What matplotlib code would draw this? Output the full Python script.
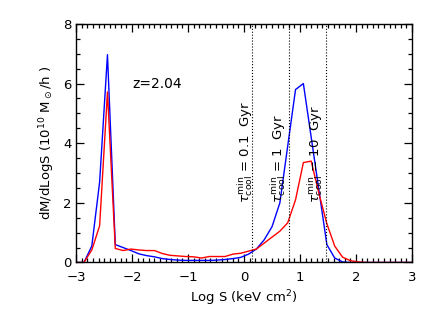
import numpy as np
import matplotlib
matplotlib.use('Agg')
import matplotlib.pyplot as plt
from matplotlib.ticker import MultipleLocator

plt.rcParams['font.family'] = ['DejaVu Sans']
plt.rcParams['mathtext.fontset'] = 'dejavusans'

# bin centres (Log S) and the two curves
log_s = [-3.00, -2.86, -2.72, -2.58, -2.44, -2.30, -2.16, -2.02, -1.88, -1.74,
         -1.60, -1.46, -1.32, -1.18, -1.04, -0.90, -0.76, -0.62, -0.48, -0.34,
         -0.20, -0.06, 0.08, 0.22, 0.36, 0.50, 0.64, 0.78, 0.92, 1.06,
         1.20, 1.34, 1.48, 1.62, 1.76, 1.90, 2.04, 2.18, 2.32, 2.46,
         2.60, 2.74, 2.88, 3.02]
dm_blue = [0, 0, 0.55, 2.7, 6.97, 0.60, 0.50, 0.40, 0.29, 0.23,
           0.19, 0.13, 0.10, 0.08, 0.07, 0.07, 0.07, 0.07, 0.08, 0.10,
           0.13, 0.17, 0.28, 0.45, 0.76, 1.2, 2.0, 3.9, 5.8, 6.0,
           4.2, 2.4, 0.6, 0.15, 0.02, 0, 0, 0, 0, 0,
           0, 0, 0, 0]
dm_red = [0, 0, 0.42, 1.23, 5.72, 0.47, 0.40, 0.45, 0.42, 0.40,
          0.40, 0.30, 0.24, 0.22, 0.20, 0.19, 0.15, 0.20, 0.20, 0.20,
          0.28, 0.31, 0.38, 0.45, 0.65, 0.85, 1.05, 1.33, 2.1, 3.35,
          3.4, 2.3, 1.3, 0.55, 0.18, 0.06, 0.02, 0, 0, 0,
          0, 0, 0, 0]

# cooling-time thresholds
tcool_x = [0.15, 0.80, 1.46]
tcool_lbl = ['0.1', '1', '10']
lbl_x = [0.02, 0.61, 1.27]

fig = plt.figure(figsize=(4.35, 3.11), dpi=100)
ax = fig.add_axes([0.175, 0.156, 0.772, 0.767])

ax.plot(log_s, dm_blue, color='blue', lw=1.0)
ax.plot(log_s, dm_red, color='red', lw=1.0)

for xv, lab, xl in zip(tcool_x, tcool_lbl, lbl_x):
    ax.axvline(xv, color='black', ls=':', lw=0.8)
    ax.text(xl, 2.0, r'$\tau_{\rm cool}^{\rm min}$ = ' + lab + '  Gyr',
            rotation=90, ha='center', va='bottom', fontsize=9.5)

ax.text(-2.0, 6.0, 'z=2.04', fontsize=10, va='center')

ax.set_xlim(-3, 3)
ax.set_ylim(0, 8)
ax.set_xticks([-3, -2, -1, 0, 1, 2, 3])
ax.set_xticklabels(['\u22123', '\u22122', '\u22121', '0', '1', '2', '3'])
ax.xaxis.set_minor_locator(MultipleLocator(0.1))
ax.yaxis.set_major_locator(MultipleLocator(2))
ax.yaxis.set_minor_locator(MultipleLocator(0.5))
ax.tick_params(which='both', direction='in', top=True, right=True,
               labelsize=9.5, width=0.9)
ax.tick_params(which='major', length=6)
ax.tick_params(which='minor', length=3)
ax.tick_params(axis='x', which='major', pad=6)
for sp in ax.spines.values():
    sp.set_linewidth(1.0)

ax.set_xlabel(r'Log S (keV cm$^{\rm 2}$)', fontsize=9.5, labelpad=3)
ax.set_ylabel(r'dM/dLogS (10$^{\rm 10}$ M$_\odot$/h )', fontsize=9.5, labelpad=4)

fig.savefig('out.png', dpi=100)
